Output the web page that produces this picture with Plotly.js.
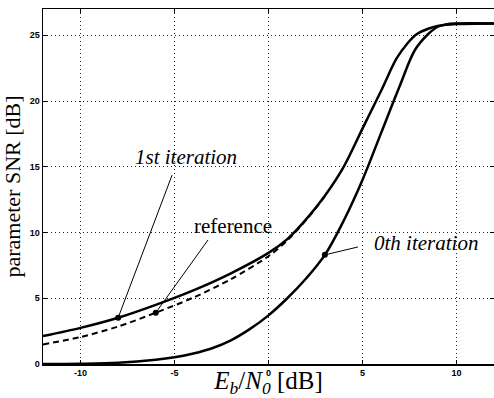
<!DOCTYPE html>
<html>
<head>
<meta charset="utf-8">
<script src="https://cdn.plot.ly/plotly-3.0.1.min.js"></script>
<style>html,body{margin:0;padding:0;background:#fff;}#chart{width:494px;height:398px;}</style>
</head>
<body>
<div id="chart"></div>
<script>
// Eb/N0 [dB] and parameter SNR [dB] values
const x0th = [-12, -10, -8, -6, -5, -4, -3, -2, -1, 0, 1, 2, 3, 4, 5, 6, 7, 7.8, 8.5, 9, 9.5, 10, 12];
const y0th = [0, 0.02, 0.1, 0.33, 0.52, 0.8, 1.2, 1.8, 2.65, 3.7, 5.0, 6.5, 8.3, 10.9, 14.0, 17.6, 21.2, 23.9, 25.1, 25.65, 25.85, 25.9, 25.9];

const x1st = [-12, -10, -8, -6, -4, -2, 0, 1, 2, 3, 4, 5, 6, 6.8, 7.4, 7.9, 8.5, 9, 10, 12];
const y1st = [2.12, 2.75, 3.52, 4.5, 5.6, 6.9, 8.45, 9.5, 11.0, 12.8, 15.0, 17.9, 20.8, 23.2, 24.4, 25.1, 25.5, 25.7, 25.85, 25.9];

const xRef = [-12, -10, -8, -6, -4, -2, 0, 1, 2, 3];
const yRef = [1.49, 2.05, 2.85, 3.9, 5.05, 6.45, 8.2, 9.4, 10.95, 12.75];

// marked points on the curves
const markX = [-8, -6, 3];
const markY = [3.52, 3.9, 8.3];

// labels: text, text position, line tail position
const labelText = ['<i>1st iteration</i>', 'reference', '<i>0th iteration</i>'];
const labelX = [-4.4, -1.9, 8.4];
const labelY = [15.75, 10.5, 9.2];
const tailX = [-5.13, -3.22, 4.76];
const tailY = [14.37, 9.43, 8.9];

const xTicks = [-10, -5, 0, 5, 10];
const yTicks = [0, 5, 10, 15, 20, 25];

const serif = 'Liberation Serif, Times New Roman, serif';

const traces = [
  {x: x0th, y: y0th, mode: 'lines', line: {color: '#000', width: 2.5, shape: 'spline', smoothing: 1}, name: '0th iteration'},
  {x: x1st, y: y1st, mode: 'lines', line: {color: '#000', width: 2.5, shape: 'spline', smoothing: 0.8}, name: '1st iteration'},
  {x: xRef, y: yRef, mode: 'lines', line: {color: '#000', width: 2, dash: '6px,4px', shape: 'spline', smoothing: 0.8}, name: 'reference'},
  {x: markX, y: markY, mode: 'markers', marker: {color: '#000', size: 6}, name: 'marks'}
];

const annotations = [];
const shapes = [];
for (let i = 0; i < labelText.length; i++) {
  shapes.push({
    type: 'line', xref: 'x', yref: 'y',
    x0: tailX[i], y0: tailY[i], x1: markX[i], y1: markY[i],
    line: {color: '#000', width: 1}
  });
  annotations.push({
    x: labelX[i], y: labelY[i], xref: 'x', yref: 'y',
    text: labelText[i], showarrow: false,
    font: {family: serif, size: 21, color: '#000'}
  });
}

const gridDash = '1px,3px';
const tickFont = {family: 'Liberation Sans, Arial, sans-serif', size: 9, weight: 'bold', color: '#000'};

const layout = {
  width: 494, height: 398,
  margin: {l: 43, r: 0, t: 9, b: 34},
  paper_bgcolor: '#fff', plot_bgcolor: '#fff',
  showlegend: false,
  xaxis: {
    range: [-12, 12], tickvals: xTicks, ticktext: xTicks.map(String),
    showline: true, linecolor: '#000', linewidth: 1.5, mirror: 'ticks',
    ticks: 'inside', ticklen: 4, tickcolor: '#000',
    showgrid: true, gridcolor: '#222', griddash: gridDash, gridwidth: 1,
    zeroline: false, tickfont: tickFont,
    title: {text: '<i>E<sub>b</sub></i>/<i>N<sub>0</sub></i> [dB]', font: {family: serif, size: 25, color: '#000'}, standoff: 0}
  },
  yaxis: {
    range: [0, 27], tickvals: yTicks, ticktext: yTicks.map(String),
    showline: true, linecolor: '#000', linewidth: 1.5, mirror: 'ticks',
    ticks: 'inside', ticklen: 4, tickcolor: '#000',
    showgrid: true, gridcolor: '#222', griddash: gridDash, gridwidth: 1,
    zeroline: false, tickfont: tickFont,
    title: {text: 'parameter SNR [dB]', font: {family: serif, size: 22, color: '#000'}, standoff: 4}
  },
  shapes: shapes,
  annotations: annotations
};

Plotly.newPlot('chart', traces, layout, {displayModeBar: false, staticPlot: true});
</script>
</body>
</html>
